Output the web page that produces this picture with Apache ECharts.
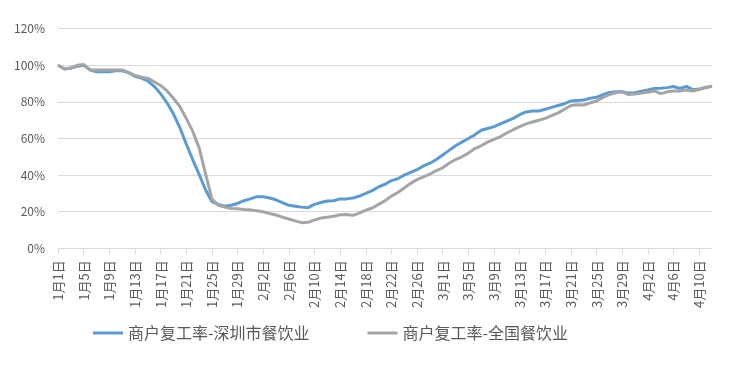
<!DOCTYPE html>
<html>
<head>
<meta charset="utf-8">
<script src="https://cdn.jsdelivr.net/npm/echarts@6/dist/echarts.min.js"></script>
<style>
html,body{margin:0;padding:0;background:#fff;}
#chart{width:750px;height:366px;}
</style>
</head>
<body>
<div id="chart"></div>
<script>
// Categories: daily dates from 1月1日 to 4月12日 (2020)
var monthDays = [31, 29, 31, 12];
var categories = [];
for (var m = 0; m < monthDays.length; m++) {
  for (var d = 1; d <= monthDays[m]; d++) categories.push((m + 1) + '月' + d + '日');
}

var seriesNames = ['商户复工率-深圳市餐饮业', '商户复工率-全国餐饮业'];

var shenzhen = [
  100, 98, 98.5, 99.5, 100, 97.5, 96.5, 96.5, 96.5, 97,
  97, 96, 94, 93, 91.5, 88.5, 84.5, 79.5, 73.5, 66,
  57, 48.5, 40.5, 32, 25.5, 24, 23, 23.5, 24.5, 26,
  27, 28.2, 28.2, 27.5, 26.5, 25, 23.5, 23, 22.5, 22.2,
  24, 25, 25.8, 26, 27, 27, 27.5, 28.5, 30, 31.5,
  33.5, 35, 37, 38, 40, 41.5, 43, 45, 46.5, 48.5,
  51, 53.5, 56, 58, 60, 62, 64.5, 65.5, 66.5, 68,
  69.5, 71, 73, 74.5, 75, 75, 76, 77, 78, 79,
  80.5, 80.8, 81, 82, 82.5, 84, 85.2, 85.5, 85.5, 84.8,
  85, 85.8, 86.5, 87.3, 87.5, 87.8, 88.4, 87.3, 88.5, 86.7,
  87, 87.8, 88.5
];

var national = [
  100, 98, 98.5, 100, 100.5, 97.5, 97.5, 97.5, 97.5, 97.5,
  97.5, 96, 94.5, 93.5, 93, 91, 89, 86, 82, 77.5,
  71, 64, 55, 41, 27, 23.5, 22.5, 21.8, 21.6, 21.2,
  21, 20.5, 20, 19, 18.2, 17, 16, 15, 14, 14.2,
  15.5, 16.5, 17, 17.5, 18.3, 18.5, 18, 19.2, 20.8, 22,
  24, 26, 28.5, 30.5, 33, 35.5, 37.5, 39, 40.5, 42.5,
  44, 46.5, 48.5, 50, 52, 54.5, 56, 58, 59.5, 61,
  63, 64.8, 66.5, 68, 69, 70, 71, 72.5, 74, 76,
  78, 78.5, 78.3, 79.5, 80.5, 82.5, 84, 85, 85.5, 84,
  84.3, 84.8, 85.3, 86, 84.5, 85.5, 86, 86, 86.5, 86,
  86.8, 88, 88.5
];

var yTicks = [0, 20, 40, 60, 80, 100, 120];

var chart = echarts.init(document.getElementById('chart'), null, {renderer: 'canvas'});
var font = '"Noto Sans CJK SC", "Noto Sans", sans-serif';
chart.setOption({
  animation: false,
  backgroundColor: '#ffffff',
  grid: {left: 58, right: 38, top: 28.7, bottom: 117.7, containLabel: false},
  legend: {
    left: 88,
    top: 320,
    icon: 'rect',
    itemWidth: 30,
    itemHeight: 3,
    itemGap: 58,
    textStyle: {fontFamily: font, fontSize: 16, color: '#595959'},
    data: seriesNames
  },
  xAxis: {
    type: 'category',
    data: categories,
    boundaryGap: false,
    axisLine: {lineStyle: {color: '#D9D9D9', width: 1}},
    axisTick: {show: true, interval: 3, length: 6, lineStyle: {color: '#D9D9D9'}},
    axisLabel: {interval: 3, rotate: 90, margin: 12, fontFamily: font, fontSize: 13, color: '#595959'},
    splitLine: {show: false}
  },
  yAxis: {
    type: 'value',
    min: yTicks[0],
    max: yTicks[yTicks.length - 1],
    interval: 20,
    axisLine: {show: false},
    axisTick: {show: false},
    axisLabel: {formatter: '{value}%', margin: 13, fontFamily: font, fontSize: 12, color: '#595959'},
    splitLine: {lineStyle: {color: '#D9D9D9', width: 1}}
  },
  series: [
    {name: seriesNames[0], type: 'line', data: shenzhen, showSymbol: false, symbol: 'none',
     lineStyle: {color: '#5B9BD5', width: 3}, itemStyle: {color: '#5B9BD5'}},
    {name: seriesNames[1], type: 'line', data: national, showSymbol: false, symbol: 'none',
     lineStyle: {color: '#A5A5A5', width: 3}, itemStyle: {color: '#A5A5A5'}}
  ]
});
</script>
</body>
</html>
